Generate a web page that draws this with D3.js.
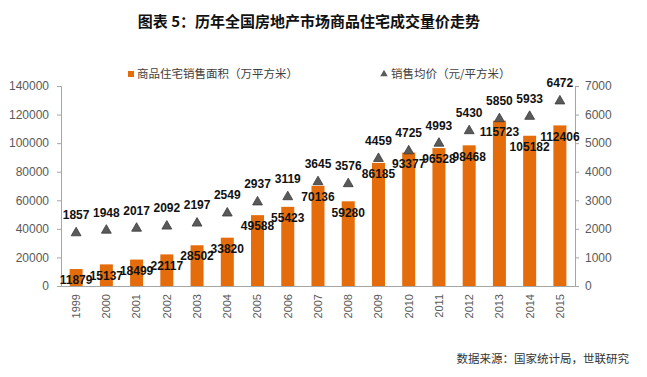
<!DOCTYPE html>
<html>
<head>
<meta charset="utf-8">
<script src="https://cdn.jsdelivr.net/npm/d3@7"></script>
<style>
  body { margin: 0; background: #fff; }
  svg { display: block; }
  .axis text { font-family: 'Liberation Sans', Arial, sans-serif; fill: #595959; }
  .axis path, .axis line { stroke: #a6a6a6; }
</style>
</head>
<body>
<div id="chart"></div>
<script>
// data
const years = ['1999', '2000', '2001', '2002', '2003', '2004', '2005', '2006', '2007', '2008',
  '2009', '2010', '2011', '2012', '2013', '2014', '2015']
const area = [11879, 15137, 18499, 22117, 28502, 33820, 49588, 55423, 70136, 59280,
  86185, 93377, 96528, 98468, 115723, 105182, 112406]
const price = [1857, 1948, 2017, 2092, 2197, 2549, 2937, 3119, 3645, 3576,
  4459, 4725, 4993, 5430, 5850, 5933, 6472]
const leftTicks = [0, 20000, 40000, 60000, 80000, 100000, 120000, 140000]
const rightTicks = [0, 1000, 2000, 3000, 4000, 5000, 6000, 7000]

const title = '图表 5：历年全国房地产市场商品住宅成交量价走势'
const legendNames = ['商品住宅销售面积（万平方米）', '销售均价（元/平方米）']
const source = '数据来源：国家统计局，世联研究'

const w = 647, h = 377
const margin = { top: 86, left: 61, right: 72, bottom: 91 }
const orange = '#e46c0a'
const grey = '#5a5a5a'
const numFont = "'Liberation Sans', Arial, sans-serif"
const cjkFont = "'Noto Sans CJK SC', sans-serif"

const svg = d3.select('#chart').append('svg').attr('width', w).attr('height', h)

const x = d3.scaleBand().domain(years).range([margin.left, w - margin.right]).paddingInner(0.57).paddingOuter(0.285)
const yL = d3.scaleLinear().domain([0, 140000]).range([h - margin.bottom, margin.top])
const yR = d3.scaleLinear().domain([0, 7000]).range([h - margin.bottom, margin.top])
const cx = d => x(d) + x.bandwidth() / 2

// title
svg.append('text').text(title)
  .attr('x', 309).attr('y', 22).attr('dy', '0.35em').attr('text-anchor', 'middle')
  .style('font-family', cjkFont).style('font-weight', 'bold').style('font-size', '15px').style('fill', '#111')

// axes
svg.append('g').classed('axis', true)
  .attr('transform', `translate(${margin.left}, 0)`)
  .call(d3.axisLeft(yL).tickValues(leftTicks).tickFormat(d3.format('d')).tickSizeOuter(0).tickSize(4).tickPadding(8))
  .call(g => g.selectAll('text').style('font-size', '12px'))

svg.append('g').classed('axis', true)
  .attr('transform', `translate(${w - margin.right}, 0)`)
  .call(d3.axisRight(yR).tickValues(rightTicks).tickFormat(d3.format('d')).tickSizeOuter(0).tickSize(4).tickPadding(6))
  .call(g => g.selectAll('text').style('font-size', '12px'))

// bars
svg.selectAll('.bar').data(area).enter().append('rect').classed('bar', true)
  .attr('x', (d, i) => x(years[i])).attr('width', x.bandwidth())
  .attr('y', d => yL(d)).attr('height', d => yL(0) - yL(d))
  .attr('fill', orange)

svg.append('g').classed('axis', true)
  .attr('transform', `translate(0, ${h - margin.bottom})`)
  .call(d3.axisBottom(x).tickSizeOuter(0).tickSize(0).tickPadding(0))
  .call(g => g.selectAll('text')
    .style('font-size', '11px')
    .attr('text-anchor', 'end')
    .attr('transform', 'rotate(-90)')
    .attr('x', -8).attr('y', 0).attr('dy', '0.35em'))

// price markers
svg.selectAll('.mark').data(price).enter().append('path').classed('mark', true)
  .attr('d', d3.symbol(d3.symbolTriangle, 42))
  .attr('transform', (d, i) => `translate(${cx(years[i])}, ${yR(d)})`)
  .attr('fill', grey).attr('stroke', '#3a3a3a').attr('stroke-width', 0.8)

// labels
svg.selectAll('.areaLabel').data(area).enter().append('text').classed('areaLabel', true)
  .text(d => d).attr('x', (d, i) => cx(years[i])).attr('y', d => yL(d) + 11)
  .attr('dy', '0.35em').attr('text-anchor', 'middle')
  .style('font-family', numFont).style('font-weight', 'bold').style('font-size', '12px').style('fill', '#111')

svg.selectAll('.priceLabel').data(price).enter().append('text').classed('priceLabel', true)
  .text(d => d).attr('x', (d, i) => cx(years[i])).attr('y', d => yR(d) - 18)
  .attr('dy', '0.35em').attr('text-anchor', 'middle')
  .style('font-family', numFont).style('font-weight', 'bold').style('font-size', '12px').style('fill', '#111')

// legend
const lg = svg.append('g').attr('transform', 'translate(0, 74)')
lg.append('rect').attr('x', 128).attr('y', -3).attr('width', 6).attr('height', 6).attr('fill', orange)
lg.append('text').text(legendNames[0]).attr('x', 137).attr('dy', '0.35em')
  .style('font-family', cjkFont).style('font-size', '11.5px').style('fill', '#404040')
lg.append('path').attr('d', d3.symbol(d3.symbolTriangle, 24)).attr('transform', 'translate(384, 0)')
  .attr('fill', grey)
lg.append('text').text(legendNames[1]).attr('x', 391).attr('dy', '0.35em')
  .style('font-family', cjkFont).style('font-size', '11.5px').style('fill', '#404040')

// source
svg.append('text').text(source)
  .attr('x', 629).attr('y', 359).attr('dy', '0.35em').attr('text-anchor', 'end')
  .style('font-family', cjkFont).style('font-size', '11.5px').style('fill', '#333')
</script>
</body>
</html>
